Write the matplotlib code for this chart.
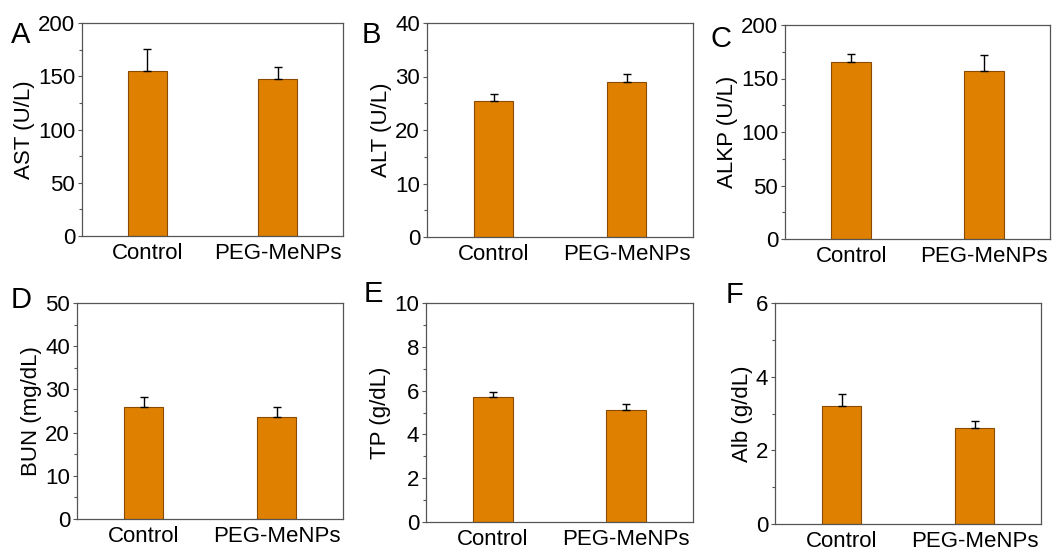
import matplotlib
matplotlib.use("Agg")
import matplotlib.pyplot as plt
from matplotlib.ticker import MultipleLocator

plt.rcParams["font.family"] = ["Liberation Sans", "DejaVu Sans"]

groups = ["Control", "PEG-MeNPs"]

panel_letters = ["A", "B", "C", "D", "E", "F"]
ylabels = ["AST (U/L)", "ALT (U/L)", "ALKP (U/L)", "BUN (mg/dL)", "TP (g/dL)", "Alb (g/dL)"]

ast_mean = [155, 147]
ast_err = [21, 12]
alt_mean = [25.5, 29.0]
alt_err = [1.2, 1.4]
alkp_mean = [165, 157]
alkp_err = [8, 15]
bun_mean = [26.0, 23.6]
bun_err = [2.2, 2.4]
tp_mean = [5.7, 5.1]
tp_err = [0.25, 0.3]
alb_mean = [3.2, 2.6]
alb_err = [0.32, 0.2]

means = [ast_mean, alt_mean, alkp_mean, bun_mean, tp_mean, alb_mean]
errs = [ast_err, alt_err, alkp_err, bun_err, tp_err, alb_err]
ymax = [200, 40, 200, 50, 10, 6]
ymajor = [50, 10, 50, 10, 2, 2]

# axes boxes in pixels: left, top, right, bottom
W, H = 1055, 555
boxes = [
    (82, 23, 343, 236),
    (427, 23, 693, 237),
    (785, 25, 1050, 239),
    (77, 303, 343, 519),
    (426, 303, 693, 522),
    (775, 303, 1041, 524),
]
letter_pos = [(11, 43), (362, 43), (711, 47), (11, 308), (364, 302), (726, 303)]

fig = plt.figure(figsize=(W / 100, H / 100), dpi=100)

bar_color = "#E08000"
edge_color = "#8a4a00"
spine_color = "#555555"

for i in range(6):
    l, t, r, b = boxes[i]
    ax = fig.add_axes([l / W, 1 - b / H, (r - l) / W, (b - t) / H])
    x = [1, 2]
    ax.bar(x, means[i], width=0.3, color=bar_color, edgecolor=edge_color,
           linewidth=0.8, zorder=2)
    ax.errorbar(x, means[i], yerr=[[0, 0], errs[i]], fmt="none", ecolor="black",
                elinewidth=1.0, capsize=3, capthick=1.0, zorder=3)
    ax.set_xlim(0.5, 2.5)
    ax.set_ylim(0, ymax[i])
    ax.yaxis.set_major_locator(MultipleLocator(ymajor[i]))
    ax.yaxis.set_minor_locator(MultipleLocator(ymajor[i] / 2))
    ax.set_xticks(x)
    ax.set_xticklabels(groups)
    ax.tick_params(axis="x", length=0, pad=5, labelsize=16)
    ax.tick_params(axis="y", which="major", direction="out", length=3,
                   width=0.8, color=spine_color, labelsize=16, pad=2)
    ax.tick_params(axis="y", which="minor", direction="out", length=2,
                   width=0.8, color=spine_color)
    for s in ax.spines.values():
        s.set_color(spine_color)
        s.set_linewidth(0.9)
    ax.set_ylabel(ylabels[i], fontsize=16, labelpad=2)

    lx, ly = letter_pos[i]
    fig.text(lx / W, 1 - ly / H, panel_letters[i], fontsize=21, va="baseline",
             ha="left")

fig.savefig("out.png", dpi=100)
